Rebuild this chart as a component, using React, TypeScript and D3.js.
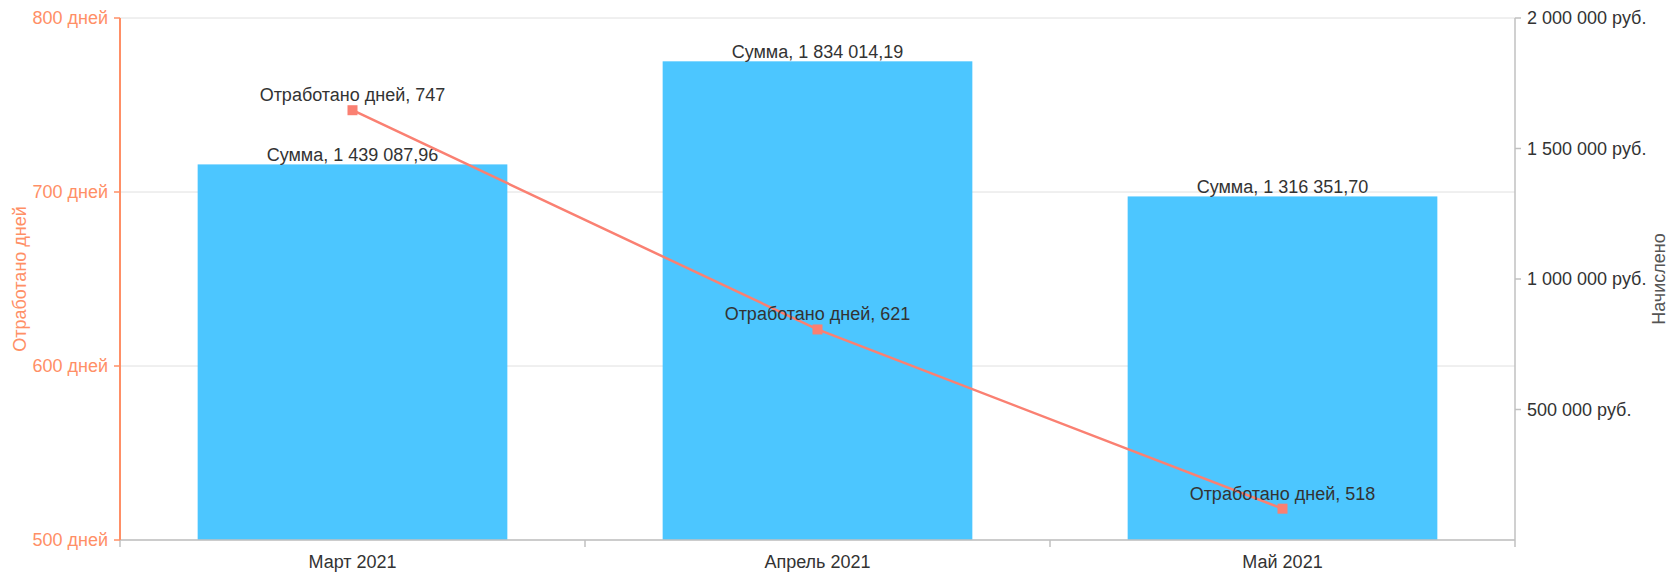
import React from "react";
import * as d3 from "d3";

const categories = ["Март 2021", "Апрель 2021", "Май 2021"];
const sums = [1439087.96, 1834014.19, 1316351.7];
const days = [747, 621, 518];
const leftTicks = [500, 600, 700, 800];
const rightTicks = [500000, 1000000, 1500000, 2000000];

const W = 1672;
const H = 573;
const M = { left: 120, right: 1515, top: 18, bottom: 540 };
const FONT = "'Liberation Sans', Arial, sans-serif";
const ORANGE = "#ff8f66";
const LINE = "#fa8072";
const BAR = "#4cc6ff";
const TEXT = "#333";

const fmtInt = (v: number) =>
  Math.round(v).toString().replace(/\B(?=(\d{3})+(?!\d))/g, " ");
const fmtMoney = (v: number) => {
  const [i, f] = v.toFixed(2).split(".");
  return i.replace(/\B(?=(\d{3})+(?!\d))/g, " ") + "," + f;
};

export default function App() {
  const x = d3.scaleBand<string>().domain(categories).range([M.left, M.right]).paddingInner(0).paddingOuter(0);
  const yL = d3.scaleLinear().domain([500, 800]).range([M.bottom, M.top]);
  const yR = d3.scaleLinear().domain([0, 2000000]).range([M.bottom, M.top]);
  const bw = x.bandwidth() * 0.666;
  const cx = (c: string) => (x(c) as number) + x.bandwidth() / 2;
  const line = d3
    .line<number>()
    .x((_, i) => cx(categories[i]))
    .y((d) => yL(d));
  const bounds = [...categories.map((c) => x(c) as number), M.right];

  return (
    <svg
      width={W}
      height={H}
      style={{ position: "absolute", left: 0, top: 0, fontFamily: FONT }}
    >
      <rect x={0} y={0} width={W} height={H} fill="#fff" />
      {/* gridlines */}
      {leftTicks.map((t) => (
        <line key={t} x1={M.left} x2={M.right} y1={yL(t)} y2={yL(t)} stroke="#e0e0e0" strokeWidth={1} />
      ))}
      {/* bars */}
      {categories.map((c, i) => (
        <rect key={c} x={cx(c) - bw / 2} y={yR(sums[i])} width={bw} height={M.bottom - yR(sums[i])} fill={BAR} />
      ))}
      {/* x axis */}
      <line x1={M.left} x2={M.right} y1={M.bottom} y2={M.bottom} stroke="#c0c0c0" strokeWidth={1.5} />
      {bounds.map((b, i) => (
        <line key={i} x1={b} x2={b} y1={M.bottom} y2={M.bottom + 7} stroke="#c0c0c0" strokeWidth={1.5} />
      ))}
      {categories.map((c) => (
        <text key={c} x={cx(c)} y={568} textAnchor="middle" fontSize={18} fill={TEXT}>
          {c}
        </text>
      ))}
      {/* left axis */}
      <line x1={M.left} x2={M.left} y1={M.top} y2={M.bottom} stroke={ORANGE} strokeWidth={2} />
      {leftTicks.map((t) => (
        <g key={t}>
          <line x1={M.left - 6} x2={M.left} y1={yL(t)} y2={yL(t)} stroke={ORANGE} strokeWidth={1.5} />
          <text x={M.left - 12} y={yL(t)} dy="0.35em" textAnchor="end" fontSize={18} fill={ORANGE}>
            {fmtInt(t) + " дней"}
          </text>
        </g>
      ))}
      <text
        transform={`translate(26,${(M.top + M.bottom) / 2}) rotate(-90)`}
        textAnchor="middle"
        fontSize={18}
        fill={ORANGE}
      >
        Отработано дней
      </text>
      {/* right axis */}
      <line x1={M.right} x2={M.right} y1={M.top} y2={M.bottom} stroke="#c0c0c0" strokeWidth={1.5} />
      {rightTicks.map((t) => (
        <g key={t}>
          <line x1={M.right} x2={M.right + 6} y1={yR(t)} y2={yR(t)} stroke="#c0c0c0" strokeWidth={1.5} />
          <text x={M.right + 12} y={yR(t)} dy="0.35em" textAnchor="start" fontSize={18} fill={TEXT}>
            {fmtInt(t) + " руб."}
          </text>
        </g>
      ))}
      <text
        transform={`translate(1665,${(M.top + M.bottom) / 2}) rotate(-90)`}
        textAnchor="middle"
        fontSize={18}
        fill="#555"
      >
        Начислено
      </text>
      {/* bar labels */}
      {categories.map((c, i) => (
        <text key={c} x={cx(c)} y={yR(sums[i]) - 3} textAnchor="middle" fontSize={18} fill={TEXT}>
          {"Сумма, " + fmtMoney(sums[i])}
        </text>
      ))}
      {/* line */}
      <path d={line(days) as string} fill="none" stroke={LINE} strokeWidth={2.5} />
      {days.map((d, i) => (
        <rect key={i} x={cx(categories[i]) - 5} y={yL(d) - 5} width={10} height={10} fill={LINE} />
      ))}
      {days.map((d, i) => (
        <text key={i} x={cx(categories[i])} y={yL(d) - 9} textAnchor="middle" fontSize={18} fill={TEXT}>
          {"Отработано дней, " + d}
        </text>
      ))}
    </svg>
  );
}
